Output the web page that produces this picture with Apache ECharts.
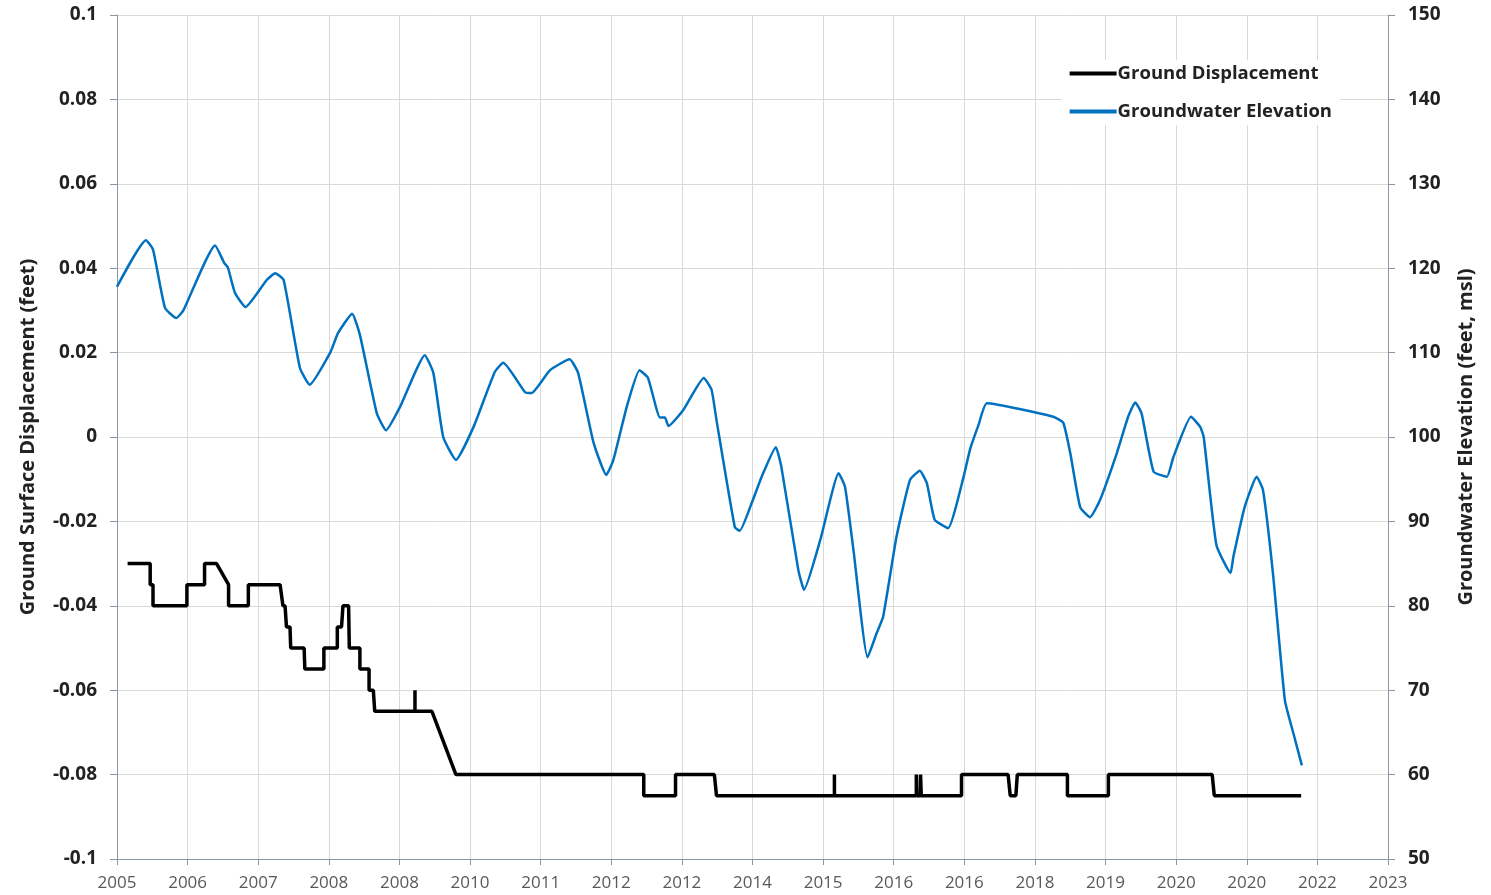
<!DOCTYPE html>
<html>
<head>
<meta charset="utf-8">
<script src="https://cdn.jsdelivr.net/npm/echarts@6/dist/echarts.min.js"></script>
<style>
  html, body { margin: 0; padding: 0; background: #fff; }
  #chart { width: 1491px; height: 895px; }
</style>
</head>
<body>
<div id="chart"></div>
<script>
// x-axis tick labels as printed in the original (one per major tick, 2005 .. 2023)
const xTickLabels = ['2005', '2006', '2007', '2008', '2008', '2010', '2011', '2012', '2012', '2014',
  '2015', '2016', '2016', '2018', '2019', '2020', '2020', '2022', '2023'];

// groundwater elevation (feet, msl), decimal year
const gwTimes = [2005.00, 2005.41, 2005.51, 2005.68, 2005.84, 2005.94, 2006.39, 2006.52, 2006.57, 2006.67,
  2006.82, 2007.12, 2007.24, 2007.36, 2007.59, 2007.73, 2008.02, 2008.13, 2008.33, 2008.44,
  2008.68, 2008.81, 2009.01, 2009.36, 2009.48, 2009.62, 2009.80, 2010.05, 2010.35, 2010.47,
  2010.78, 2010.87, 2011.13, 2011.41, 2011.53, 2011.75, 2011.93, 2012.03, 2012.22, 2012.40,
  2012.52, 2012.69, 2012.76, 2012.81, 2013.02, 2013.31, 2013.42, 2013.49, 2013.75, 2013.82,
  2013.99, 2014.13, 2014.33, 2014.41, 2014.65, 2014.73, 2014.96, 2015.22, 2015.31, 2015.43,
  2015.63, 2015.76, 2015.85, 2016.04, 2016.23, 2016.37, 2016.47, 2016.58, 2016.77, 2016.99,
  2017.08, 2017.20, 2017.32, 2018.26, 2018.40, 2018.50, 2018.64, 2018.78, 2018.92, 2019.16,
  2019.32, 2019.42, 2019.51, 2019.68, 2019.87, 2019.96, 2020.21, 2020.34, 2020.39, 2020.57,
  2020.77, 2020.81, 2020.97, 2021.14, 2021.23, 2021.37, 2021.54, 2021.66, 2021.78];
const gwValues = [117.8, 123.3, 122.2, 115.3, 114.1, 115.0, 122.7, 120.6, 120.1, 117.1,
  115.4, 118.6, 119.4, 118.6, 108.2, 106.2, 110.0, 112.3, 114.6, 112.1,
  102.8, 100.8, 103.6, 109.7, 107.6, 100.0, 97.3, 101.2, 107.7, 108.8,
  105.3, 105.2, 107.9, 109.2, 107.6, 99.3, 95.5, 97.3, 103.6, 107.9,
  107.0, 102.3, 102.3, 101.3, 103.2, 107.0, 105.6, 102.0, 89.3, 88.9,
  92.2, 95.3, 98.8, 96.4, 84.2, 81.9, 87.8, 95.7, 94.1, 86.6,
  73.9, 76.8, 78.7, 88.2, 94.9, 96.0, 94.5, 90.2, 89.2, 95.3,
  98.5, 101.4, 104.0, 102.4, 101.7, 98.1, 91.7, 90.5, 92.5, 98.1,
  102.4, 104.1, 102.8, 95.9, 95.3, 97.6, 102.4, 101.2, 100.0, 87.2,
  83.9, 85.8, 91.7, 95.3, 93.7, 83.9, 68.8, 64.9, 61.1];

// ground surface displacement (feet), step record
const dispTimes = [2005.15, 2005.47, 2005.47, 2005.51, 2005.51, 2005.99, 2005.99, 2006.24, 2006.24, 2006.41,
  2006.58, 2006.58, 2006.86, 2006.86, 2007.31, 2007.35, 2007.38, 2007.40, 2007.45, 2007.46,
  2007.65, 2007.66, 2007.93, 2007.93, 2008.12, 2008.12, 2008.18, 2008.20, 2008.28, 2008.29,
  2008.44, 2008.44, 2008.57, 2008.57, 2008.63, 2008.65, 2009.22, 2009.22, 2009.22, 2009.46,
  2009.80, 2012.46, 2012.46, 2012.91, 2012.91, 2013.46, 2013.49, 2015.16, 2015.16, 2015.16,
  2016.32, 2016.32, 2016.33, 2016.38, 2016.38, 2016.39, 2016.96, 2016.96, 2017.62, 2017.65,
  2017.73, 2017.75, 2018.46, 2018.46, 2019.04, 2019.04, 2020.51, 2020.54, 2021.77];
const dispValues = [-0.03, -0.03, -0.035, -0.035, -0.04, -0.04, -0.035, -0.035, -0.03, -0.03,
  -0.035, -0.04, -0.04, -0.035, -0.035, -0.04, -0.04, -0.045, -0.045, -0.05,
  -0.05, -0.055, -0.055, -0.05, -0.05, -0.045, -0.045, -0.04, -0.04, -0.05,
  -0.05, -0.055, -0.055, -0.06, -0.06, -0.065, -0.065, -0.06, -0.065, -0.065,
  -0.08, -0.08, -0.085, -0.085, -0.08, -0.08, -0.085, -0.085, -0.08, -0.085,
  -0.085, -0.08, -0.085, -0.085, -0.08, -0.085, -0.085, -0.08, -0.08, -0.085,
  -0.085, -0.08, -0.08, -0.085, -0.085, -0.08, -0.08, -0.085, -0.085];

const FONT = 'Open Sans';
const AXIS_COLOR = '#8a96a3';
const chart = echarts.init(document.getElementById('chart'));

const dispData = dispTimes.map((t, i) => [t, dispValues[i]]);
const gwData = gwTimes.map((t, i) => [t, gwValues[i]]);

const option = {
  backgroundColor: '#fff',
  animation: false,
  grid: { left: 117, right: 103, top: 15, bottom: 36 },
  legend: {
    orient: 'vertical',
    right: 151,
    top: 60,
    itemWidth: 47,
    itemHeight: 4,
    itemGap: 19,
    backgroundColor: '#fff',
    padding: [4, 8, 4, 8],
    textStyle: { fontFamily: FONT, fontWeight: 'bold', fontSize: 18.5, color: '#222', padding: [0, 0, 0, -4] },
    data: [
      { name: 'Ground Displacement', icon: 'rect' },
      { name: 'Groundwater Elevation', icon: 'rect' }
    ]
  },
  xAxis: {
    type: 'value',
    min: 2005,
    max: 2023,
    interval: 1,
    axisLine: { show: true, onZero: false, lineStyle: { color: AXIS_COLOR } },
    axisTick: { show: true, length: 6, lineStyle: { color: AXIS_COLOR } },
    axisLabel: {
      fontFamily: FONT, fontSize: 17, color: '#595959', margin: 16,
      formatter: v => xTickLabels[Math.round(v - 2005)] || ''
    },
    splitLine: { show: true, lineStyle: { color: '#d9d9d9' } }
  },
  yAxis: [
    {
      type: 'value',
      min: -0.1,
      max: 0.1,
      interval: 0.02,
      name: 'Ground Surface Displacement (feet)',
      nameLocation: 'middle',
      nameGap: 79,
      nameTextStyle: { fontFamily: FONT, fontWeight: 'bold', fontSize: 20, color: '#222' },
      axisLine: { show: true, lineStyle: { color: AXIS_COLOR } },
      axisTick: { show: true, length: 7, lineStyle: { color: AXIS_COLOR } },
      axisLabel: {
        fontFamily: FONT, fontWeight: 'bold', fontSize: 19, color: '#222', margin: 20,
        formatter: v => String(Math.round(v * 100) / 100)
      },
      splitLine: { show: true, lineStyle: { color: '#d9d9d9' } }
    },
    {
      type: 'value',
      min: 50,
      max: 150,
      interval: 10,
      name: 'Groundwater Elevation (feet, msl)',
      nameLocation: 'middle',
      nameGap: 68,
      nameTextStyle: { fontFamily: FONT, fontWeight: 'bold', fontSize: 20, color: '#222' },
      axisLine: { show: true, lineStyle: { color: AXIS_COLOR } },
      axisTick: { show: true, length: 7, lineStyle: { color: AXIS_COLOR } },
      axisLabel: { fontFamily: FONT, fontWeight: 'bold', fontSize: 19, color: '#222', margin: 20 },
      splitLine: { show: false }
    }
  ],
  series: [
    {
      name: 'Ground Displacement',
      type: 'line',
      yAxisIndex: 0,
      data: dispData,
      showSymbol: false,
      color: '#000000',
      lineStyle: { width: 3.5, color: '#000000' },
      z: 3
    },
    {
      name: 'Groundwater Elevation',
      type: 'line',
      yAxisIndex: 1,
      data: gwData,
      showSymbol: false,
      smooth: 0.15,
      color: '#0070c0',
      lineStyle: { width: 2.5, color: '#0070c0' },
      z: 2
    }
  ]
};

chart.setOption(option);
window.addEventListener('resize', () => chart.resize());
</script>
</body>
</html>
